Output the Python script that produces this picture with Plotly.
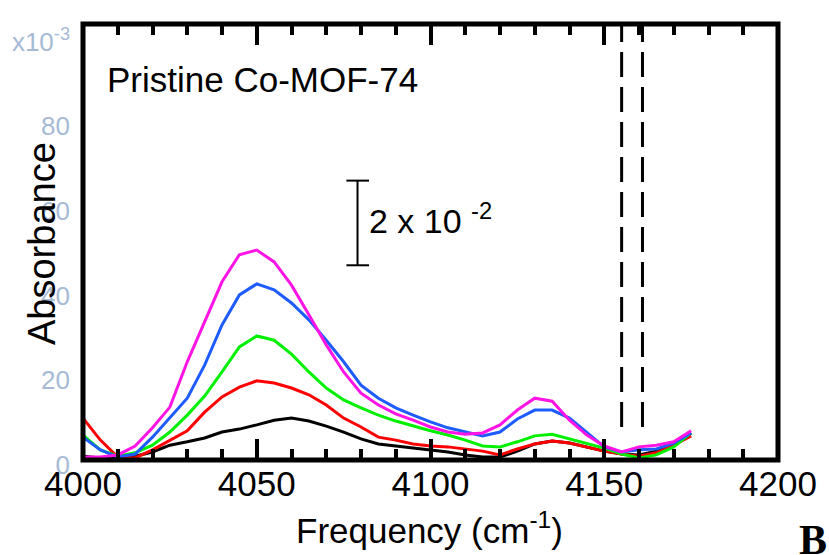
import plotly.graph_objects as go

# Wavenumber grid (cm^-1) shared by all spectra
freq = [4000, 4005, 4010, 4015, 4020, 4025, 4030, 4035, 4040, 4045,
        4050, 4055, 4060, 4065, 4070, 4075, 4080, 4085, 4090, 4095,
        4100, 4105, 4110, 4115, 4120, 4125, 4130, 4135, 4140, 4145,
        4150, 4155, 4160, 4165, 4170, 4175]

# Absorbance (x 10^-3) for increasing H2 loading
abs_black = [0.9, 0.5, 0.5, 0.9, 1.9, 3.5, 4.3, 5.2, 6.6, 7.3,
             8.3, 9.4, 9.9, 9.2, 8.0, 6.6, 5.0, 3.8, 3.3, 2.8,
             2.4, 1.9, 1.2, 0.7, 0.7, 2.1, 3.8, 4.5, 4.0, 3.1,
             2.1, 1.4, 1.2, 2.1, 3.8, 6.4]
abs_red = [9.9, 4.7, 0.7, 0.5, 2.4, 4.7, 6.9, 11.3, 14.9, 17.2,
           18.7, 18.2, 17.0, 15.4, 13.0, 9.9, 7.8, 5.4, 4.7, 3.8,
           3.3, 3.1, 2.6, 2.1, 1.2, 2.6, 3.8, 4.5, 4.0, 3.1,
           2.1, 1.4, 0.9, 1.7, 3.5, 5.7]
abs_green = [5.9, 2.4, 0.9, 1.7, 3.5, 6.6, 10.6, 15.1, 20.8, 26.7,
             29.3, 28.3, 25.0, 20.8, 17.0, 14.2, 12.3, 10.6, 9.2, 8.0,
             6.9, 5.9, 4.7, 3.3, 3.1, 4.3, 5.7, 6.1, 5.0, 4.0,
             2.8, 1.4, 0.5, 1.2, 3.1, 6.4]
abs_blue = [5.4, 2.4, 0.7, 1.4, 5.4, 9.9, 14.6, 22.4, 31.9, 39.0,
            41.6, 40.2, 37.1, 33.1, 28.3, 23.2, 17.7, 14.6, 12.3, 10.6,
            9.0, 7.6, 6.6, 5.7, 6.6, 9.7, 11.8, 11.8, 9.9, 6.4,
            3.1, 1.9, 2.4, 2.6, 4.0, 6.4]
abs_magenta = [0.7, 0.7, 1.2, 3.3, 7.6, 12.5, 23.2, 32.6, 42.1, 48.5,
               49.6, 46.8, 41.3, 34.3, 27.2, 20.8, 15.8, 13.0, 10.9, 9.4,
               7.8, 6.6, 6.1, 6.4, 8.3, 11.8, 14.6, 13.9, 9.4, 5.9,
               3.3, 1.9, 3.1, 3.5, 4.3, 6.9]

series = [
    (abs_black, "#000000"),
    (abs_red, "#ff0000"),
    (abs_green, "#00f000"),
    (abs_blue, "#1f5cff"),
    (abs_magenta, "#ff14e6"),
]

# Integration window markers and scale bar
window_edges = [4155, 4161]
window_span = [7.8, 103]
scale_x = 4079
scale_y = [46, 66]      # 2 x 10^-2 = 20 x 10^-3
scale_cap = [4075.8, 4082.3]

y_ticks = [0, 20, 40, 60, 80, 100]
y_ticktext = ["0", "20", "40", "60", "80", "x10<sup>-3</sup>"]

sans = "Liberation Sans, Arial, sans-serif"

fig = go.Figure()

for vals, col in series:
    fig.add_trace(go.Scatter(x=freq, y=vals, mode="lines",
                             line=dict(color=col, width=3), showlegend=False))

for xe in window_edges:
    fig.add_trace(go.Scatter(x=[xe, xe], y=window_span, mode="lines",
                             line=dict(color="black", width=3, dash="25px,10px"),
                             showlegend=False))

# scale bar
fig.add_trace(go.Scatter(x=[scale_x, scale_x], y=scale_y, mode="lines",
                         line=dict(color="black", width=2), showlegend=False))
for yv in scale_y:
    fig.add_trace(go.Scatter(x=scale_cap, y=[yv, yv], mode="lines",
                             line=dict(color="black", width=2), showlegend=False))

fig.update_layout(
    width=829, height=555,
    margin=dict(l=79, r=43, t=24, b=95),
    paper_bgcolor="white", plot_bgcolor="white",
    xaxis=dict(range=[4000, 4200], tick0=4000, dtick=50,
               ticks="inside", ticklen=21, tickwidth=3.5, tickcolor="black",
               minor=dict(dtick=10, ticks="inside", ticklen=11, tickwidth=3.5,
                          tickcolor="black"),
               mirror="allticks", showline=False, showgrid=False, zeroline=False,
               tickfont=dict(family=sans, size=35, color="black"),
               ticklabelstandoff=0),
    yaxis=dict(range=[0, 103], tickvals=y_ticks, ticktext=y_ticktext,
               ticks="", showline=False, showgrid=False, zeroline=False,
               tickfont=dict(family=sans, size=26, color="#a6bad6"),
               ticklabelstandoff=12, ticklabelshift=5),
    shapes=[dict(type="rect", xref="paper", yref="paper", x0=0, x1=1, y0=0, y1=1,
                 line=dict(color="black", width=5), layer="above")],
    annotations=[
        dict(text="Pristine Co-MOF-74", xref="paper", yref="paper",
             x=0.031, y=0.8716, xanchor="left", yanchor="middle", showarrow=False,
             font=dict(family=sans, size=35, color="black")),
        dict(text="2 x 10 <sup>-2</sup>", xref="paper", yref="paper",
             x=0.409, y=0.555, xanchor="left", yanchor="middle", showarrow=False,
             font=dict(family=sans, size=34, color="black")),
        dict(text="Absorbance", xref="paper", yref="paper", textangle=-90,
             x=-0.058, y=0.497, xanchor="center", yanchor="middle", showarrow=False,
             font=dict(family=sans, size=38, color="black")),
        dict(text="Frequency (cm<sup>-1</sup>)", xref="paper", yref="paper",
             x=0.498, y=-0.155, xanchor="center", yanchor="middle", showarrow=False,
             font=dict(family=sans, size=35, color="black")),
        dict(text="<b>B</b>", xref="paper", yref="paper",
             x=1.028, y=-0.183, xanchor="left", yanchor="middle", showarrow=False,
             font=dict(family="Liberation Serif, Times New Roman, serif", size=42,
                       color="black")),
    ],
)

fig.write_html("out.html")
